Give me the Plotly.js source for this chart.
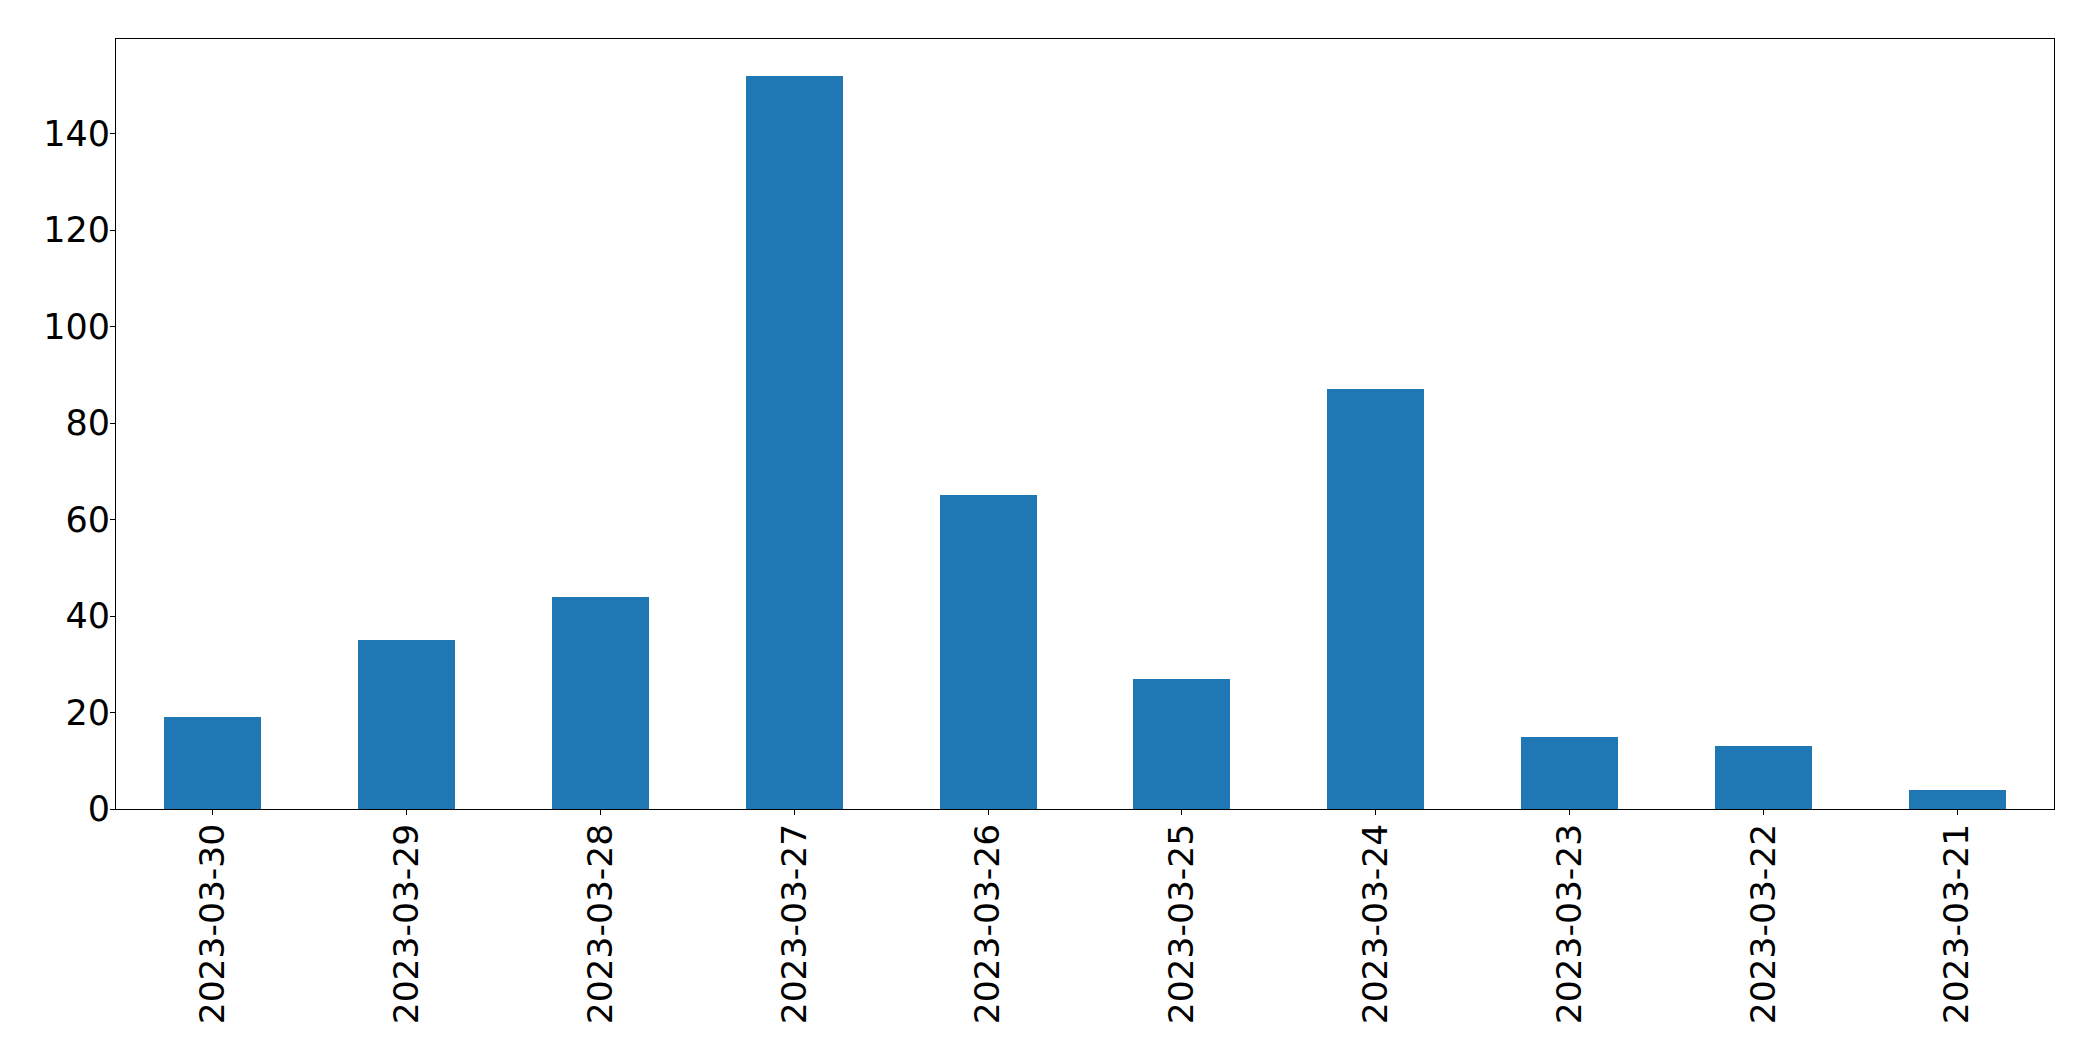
<!DOCTYPE html>
<html>
<head>
<meta charset="utf-8">
<script src="https://cdn.plot.ly/plotly-3.0.1.min.js"></script>
<style>html,body{margin:0;padding:0;background:#fff;}#chart{width:2093px;height:1061px;}</style>
</head>
<body>
<div id="chart"></div>
<script>
const dates = ["2023-03-30","2023-03-29","2023-03-28","2023-03-27","2023-03-26","2023-03-25","2023-03-24","2023-03-23","2023-03-22","2023-03-21"];
const counts = [19, 35, 44, 152, 65, 27, 87, 15, 13, 4];
const yTicks = [0, 20, 40, 60, 80, 100, 120, 140];

const data = [{
  type: 'bar',
  x: dates,
  y: counts,
  width: 0.5,
  marker: {color: '#1f77b4', line: {width: 0}},
  hoverinfo: 'x+y'
}];

const layout = {
  width: 2093,
  height: 1061,
  margin: {l: 116, r: 39, t: 39, b: 252, pad: 0},
  paper_bgcolor: '#ffffff',
  plot_bgcolor: '#ffffff',
  font: {family: 'DejaVu Sans', size: 35, color: '#000000'},
  showlegend: false,
  bargap: 0,
  xaxis: {
    type: 'category',
    range: [-0.5, 9.5],
    tickangle: -90,
    ticks: 'outside',
    ticklen: 5,
    tickwidth: 1,
    tickcolor: '#000',
    ticklabelstandoff: -5,
    showline: true,
    linecolor: '#000',
    linewidth: 1,
    mirror: true,
    showgrid: false,
    zeroline: false,
    tickfont: {family: 'DejaVu Sans', size: 34.5, color: '#000'}
  },
  yaxis: {
    range: [0, 159.6],
    tickvals: yTicks,
    ticktext: yTicks.map(String),
    ticks: 'outside',
    ticklen: 5,
    tickwidth: 1,
    tickcolor: '#000',
    ticklabelstandoff: -7,
    showline: true,
    linecolor: '#000',
    linewidth: 1,
    mirror: true,
    showgrid: false,
    zeroline: false,
    tickfont: {family: 'DejaVu Sans', size: 35, color: '#000'}
  }
};

Plotly.newPlot('chart', data, layout, {displayModeBar: false, staticPlot: true});
</script>
</body>
</html>
